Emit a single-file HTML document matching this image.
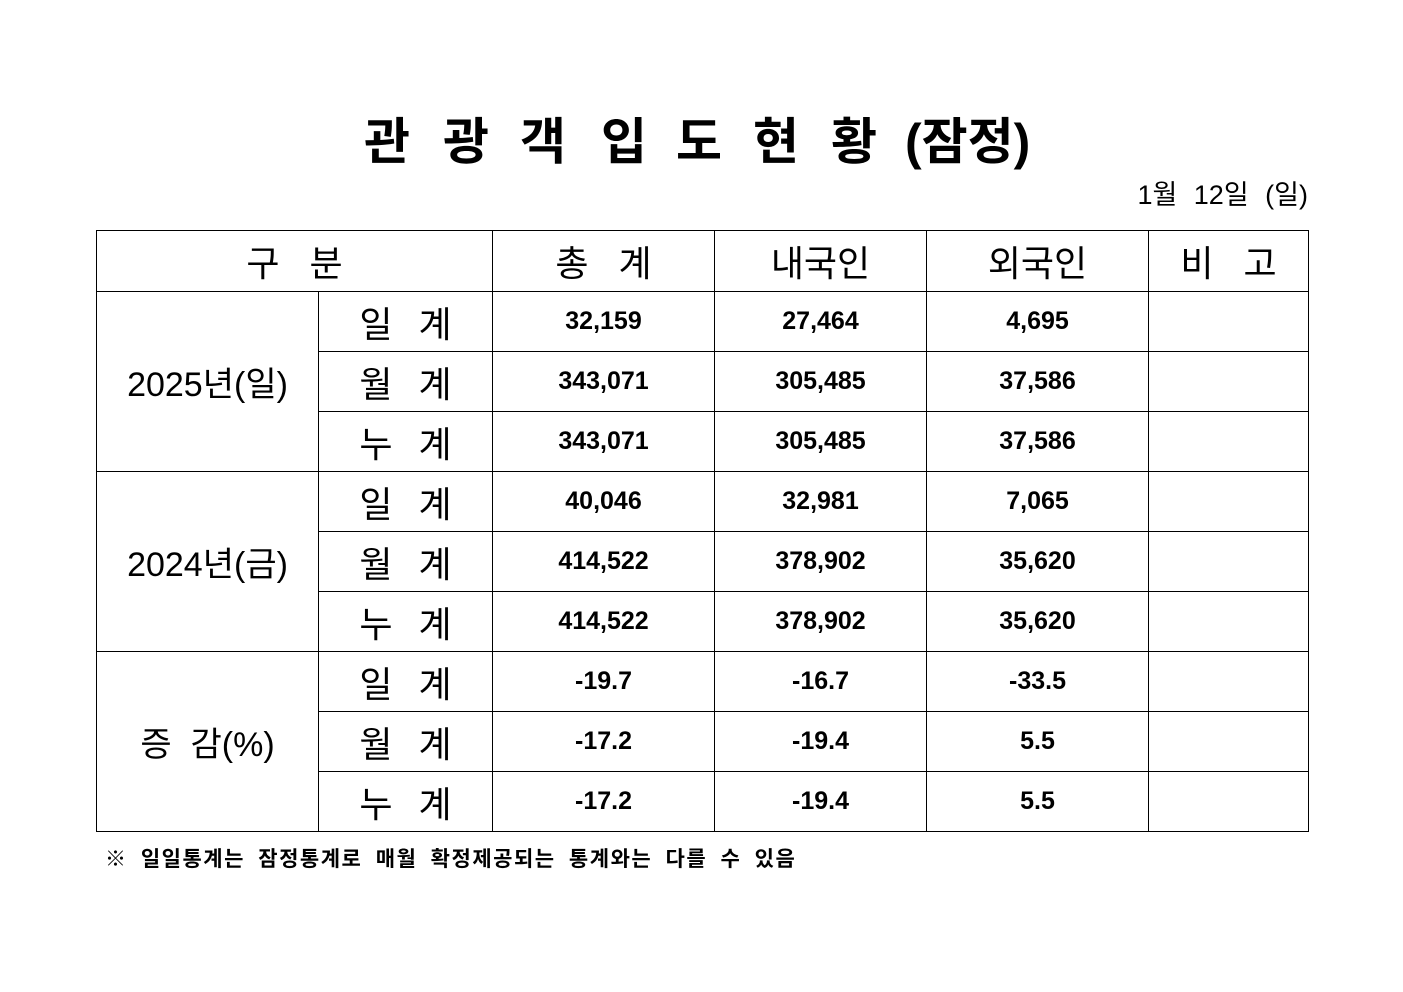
<!DOCTYPE html>
<html><head><meta charset="utf-8"><style>
body{margin:0;width:1403px;height:992px;background:#fff;position:relative;font-family:"Liberation Sans","Noto Sans CJK KR",sans-serif;color:#000;overflow:hidden}
.t{position:absolute;top:112px;font-size:50px;font-weight:bold;line-height:60px}
.date{position:absolute;right:95px;top:178px;font-size:27px;line-height:34px;word-spacing:9px}
table{position:absolute;left:96px;top:230px;border-collapse:collapse;table-layout:fixed}
td{border:1px solid #000;padding:0;text-align:center;height:59px;font-size:25px;font-weight:bold}
.h td{height:60px;font-size:36px;font-weight:normal}
td.g{font-size:34px;font-weight:normal}
td.l{font-size:36px;font-weight:normal;letter-spacing:6px;word-spacing:4px;padding-left:6px}
.note{position:absolute;left:105px;top:843px;font-size:21px;font-weight:bold;letter-spacing:1.5px;word-spacing:6px}
</style></head><body>
<div class="t" style="left:364px">관</div>
<div class="t" style="left:443px">광</div>
<div class="t" style="left:520px">객</div>
<div class="t" style="left:601px">입</div>
<div class="t" style="left:676px">도</div>
<div class="t" style="left:753px">현</div>
<div class="t" style="left:831px">황</div>
<div class="t" style="left:905px">(잠정)</div>
<div class="date">1월 12일 (일)</div>
<table>
<colgroup><col style="width:222px"><col style="width:174px"><col style="width:222px"><col style="width:212px"><col style="width:222px"><col style="width:160px"></colgroup>
<tr class="h"><td colspan="2">구 &nbsp; 분</td><td>총 &nbsp; 계</td><td>내국인</td><td>외국인</td><td>비 &nbsp; 고</td></tr>
<tr><td rowspan="3" class="g">2025년(일)</td><td class="l">일 계</td><td>32,159</td><td>27,464</td><td>4,695</td><td></td></tr>
<tr><td class="l">월 계</td><td>343,071</td><td>305,485</td><td>37,586</td><td></td></tr>
<tr><td class="l">누 계</td><td>343,071</td><td>305,485</td><td>37,586</td><td></td></tr>
<tr><td rowspan="3" class="g">2024년(금)</td><td class="l">일 계</td><td>40,046</td><td>32,981</td><td>7,065</td><td></td></tr>
<tr><td class="l">월 계</td><td>414,522</td><td>378,902</td><td>35,620</td><td></td></tr>
<tr><td class="l">누 계</td><td>414,522</td><td>378,902</td><td>35,620</td><td></td></tr>
<tr><td rowspan="3" class="g">증 &nbsp;감(%)</td><td class="l">일 계</td><td>-19.7</td><td>-16.7</td><td>-33.5</td><td></td></tr>
<tr><td class="l">월 계</td><td>-17.2</td><td>-19.4</td><td>5.5</td><td></td></tr>
<tr><td class="l">누 계</td><td>-17.2</td><td>-19.4</td><td>5.5</td><td></td></tr>
</table>
<div class="note">※ 일일통계는 잠정통계로 매월 확정제공되는 통계와는 다를 수 있음</div>
</body></html>
